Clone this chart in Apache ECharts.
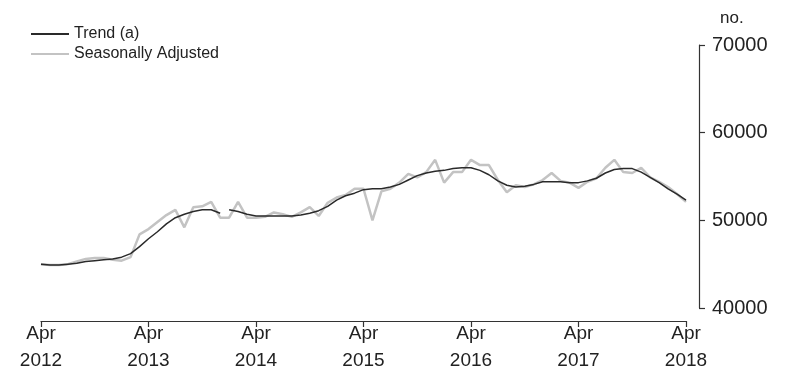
<!DOCTYPE html>
<html>
<head>
<meta charset="utf-8">
<script src="https://cdn.jsdelivr.net/npm/echarts@6/dist/echarts.min.js"></script>
<style>
html,body{margin:0;padding:0;background:#fff;}
#chart{width:800px;height:391px;}
</style>
</head>
<body>
<div id="chart"></div>
<script>
// Months Apr 2012 .. Apr 2018
const monthNames = ['Jan','Feb','Mar','Apr','May','Jun','Jul','Aug','Sep','Oct','Nov','Dec'];
const startYear = 2012, startMonth = 3, monthCount = 73;
const categories = [];
for (let i = 0; i < monthCount; i++) {
  const m = (startMonth + i) % 12;
  const y = startYear + Math.floor((startMonth + i) / 12);
  categories.push(monthNames[m] + ' ' + y);
}

const trend = [
  45000, 44900, 44900, 45000, 45100, 45300, 45400, 45500, 45600, 45800,
  46200, 47000, 47900, 48700, 49600, 50300, 50700, 51000, 51200, 51200,
  50800, 51200, 51000, 50700, 50500, 50500, 50500, 50500, 50500, 50600,
  50800, 51100, 51600, 52300, 52800, 53100, 53500, 53600, 53600, 53800,
  54100, 54600, 55100, 55400, 55600, 55700, 55900, 56000, 56000, 55700,
  55200, 54500, 54000, 53800, 53900, 54100, 54400, 54400, 54400, 54300,
  54300, 54500, 54800, 55400, 55800, 55900, 55900, 55500, 54900, 54300,
  53600, 53000, 52300
];
// trend series has a break between these two indices
const trendBreakAfter = 20;

const seasonallyAdjusted = [
  45000, 44900, 44900, 45000, 45300, 45600, 45700, 45700, 45500, 45400,
  45800, 48400, 49000, 49800, 50600, 51200, 49200, 51500, 51600, 52100,
  50300, 50300, 52100, 50300, 50300, 50400, 50900, 50700, 50400, 50900,
  51500, 50500, 52000, 52600, 52900, 53600, 53600, 50000, 53300, 53600,
  54300, 55300, 54900, 55500, 56900, 54300, 55500, 55500, 56900, 56300,
  56300, 54600, 53200, 54000, 53800, 54100, 54600, 55400, 54500, 54300,
  53700, 54400, 54800, 56000, 56900, 55500, 55400, 56000, 54900, 54400,
  53800, 53000, 52100
];

const yTicks = [40000, 50000, 60000, 70000];

const trendA = trend.map((v, i) => i <= trendBreakAfter ? v : null);
const trendB = trend.map((v, i) => i > trendBreakAfter ? v : null);

const chart = echarts.init(document.getElementById('chart'), null, {renderer: 'canvas'});
const font = '"Liberation Sans", Arial, sans-serif';
chart.setOption({
  animation: false,
  backgroundColor: '#ffffff',
  textStyle: {fontFamily: font},
  legend: {
    orient: 'vertical',
    left: 30,
    top: 26,
    padding: 0,
    itemWidth: 38,
    itemHeight: 14,
    itemGap: 4,
    data: ['Trend (a)', 'Seasonally Adjusted'],
    itemStyle: {opacity: 0},
    textStyle: {fontSize: 16, color: '#222', fontFamily: font}
  },
  grid: {left: 41, right: 114, top: 45, bottom: 83, containLabel: false},
  xAxis: {
    type: 'category',
    data: categories,
    boundaryGap: false,
    offset: 13,
    axisLine: {lineStyle: {color: '#333', width: 1.2}},
    axisTick: {
      show: true, length: 6, inside: false,
      interval: (idx) => idx % 12 === 0,
      lineStyle: {color: '#333', width: 1.2}
    },
    axisLabel: {
      interval: (idx) => idx % 12 === 0,
      formatter: (v) => v.replace(' ', '\n'),
      fontSize: 19,
      lineHeight: 27,
      margin: -1,
      color: '#222',
      fontFamily: font
    },
    splitLine: {show: false}
  },
  yAxis: {
    type: 'value',
    position: 'right',
    min: yTicks[0],
    max: yTicks[yTicks.length - 1],
    interval: 10000,
    offset: 13,
    name: 'no.',
    nameLocation: 'end',
    nameGap: 18,
    nameTextStyle: {fontSize: 17, color: '#222', align: 'left', padding: [0, 0, 0, 21], fontFamily: font},
    axisLine: {show: true, lineStyle: {color: '#333', width: 1.2}},
    axisTick: {show: true, length: 6, inside: false, lineStyle: {color: '#333', width: 1.2}},
    axisLabel: {fontSize: 20, color: '#222', margin: 13, fontFamily: font, formatter: (v) => String(v)},
    splitLine: {show: false}
  },
  series: [
    {
      name: 'Seasonally Adjusted',
      type: 'line',
      data: seasonallyAdjusted,
      symbol: 'none',
      lineStyle: {color: '#c3c3c3', width: 2.5},
      itemStyle: {color: '#c3c3c3'},
      z: 1
    },
    {
      name: 'Trend (a)',
      type: 'line',
      data: trendA,
      symbol: 'none',
      connectNulls: false,
      lineStyle: {color: '#2a2a2a', width: 1.5},
      itemStyle: {color: '#2a2a2a'},
      z: 2
    },
    {
      name: 'Trend (a)',
      type: 'line',
      data: trendB,
      symbol: 'none',
      connectNulls: false,
      lineStyle: {color: '#2a2a2a', width: 1.5},
      itemStyle: {color: '#2a2a2a'},
      z: 2
    }
  ]
});
</script>
</body>
</html>
